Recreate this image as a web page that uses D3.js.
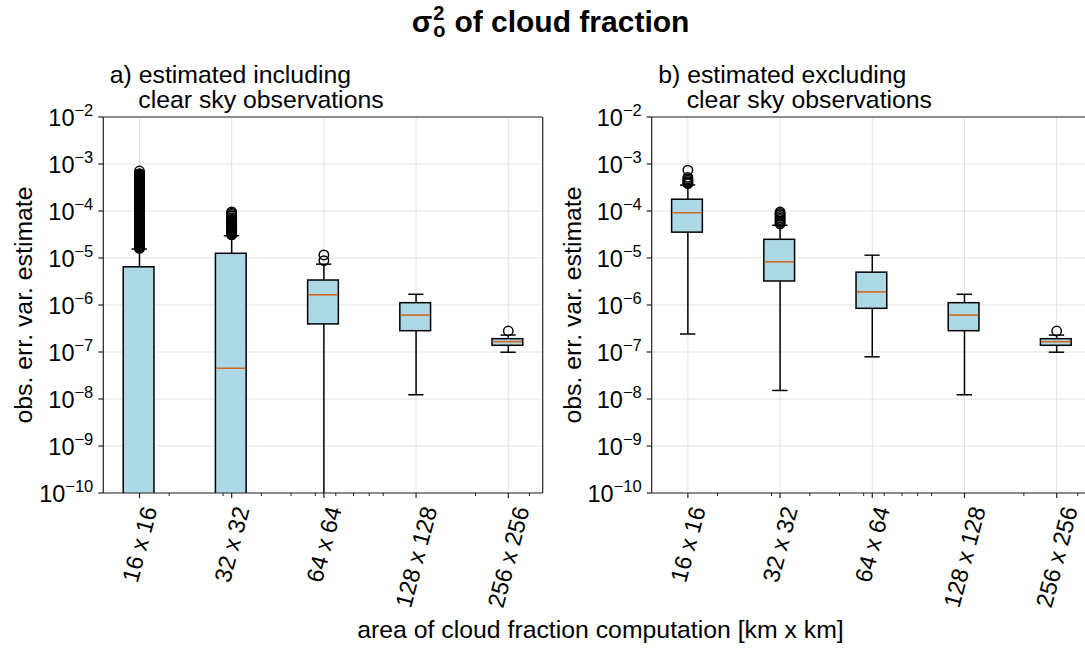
<!DOCTYPE html>
<html>
<head>
<meta charset="utf-8">
<script src="https://cdn.jsdelivr.net/npm/d3@7"></script>
<style>
  body { margin: 0; background: #ffffff; }
  text { font-family: "Liberation Sans", Arial, Helvetica, sans-serif; fill: #000; }
</style>
</head>
<body>
<svg id="fig" width="1085" height="648"></svg>
<script>
// ---- data ----------------------------------------------------------------
const categories = ["16 x 16", "32 x 32", "64 x 64", "128 x 128", "256 x 256"];
const areaSizes = [16, 32, 64, 128, 256];           // km, box positions on the log x axis
const minorAreaTicks = [20, 30, 40, 50, 60, 70, 80, 90, 100, 200, 300];
const yTickExponents = [-2, -3, -4, -5, -6, -7, -8, -9, -10];

// a) including clear sky observations (zeros fall below the axis)
const inclWhiskerLow  = [0, 0, 0, 1.23e-8, 9.9e-8];
const inclQ1          = [0, 0, 3.96e-7, 2.84e-7, 1.39e-7];
const inclMedian      = [0, 4.5e-8, 1.65e-6, 6.1e-7, 1.66e-7];
const inclQ3          = [6.5e-6, 1.26e-5, 3.4e-6, 1.12e-6, 1.92e-7];
const inclWhiskerHigh = [1.55e-5, 2.96e-5, 7.4e-6, 1.69e-6, 2.29e-7];
const inclOutliers = [
  [1.6e-5, 1.65e-5, 1.7e-5, 1.78e-5, 1.85e-5, 1.92e-5, 2.0e-5, 2.08e-5, 2.15e-5, 2.22e-5,
   2.3e-5, 2.4e-5, 2.5e-5, 2.6e-5, 2.7e-5, 2.8e-5, 2.9e-5, 3.0e-5, 3.1e-5, 3.22e-5,
   3.35e-5, 3.47e-5, 3.6e-5, 3.75e-5, 3.9e-5, 4.05e-5, 4.2e-5, 4.35e-5, 4.5e-5, 4.68e-5,
   4.85e-5, 5.02e-5, 5.2e-5, 5.4e-5, 5.6e-5, 5.8e-5, 6.0e-5, 6.25e-5, 6.5e-5, 6.75e-5,
   7.0e-5, 7.25e-5, 7.5e-5, 7.8e-5, 8.1e-5, 8.4e-5, 8.7e-5, 9.05e-5, 9.4e-5, 9.75e-5,
   1.01e-4, 1.05e-4, 1.09e-4, 1.13e-4, 1.17e-4, 1.21e-4, 1.26e-4, 1.3e-4, 1.35e-4, 1.4e-4,
   1.45e-4, 1.5e-4, 1.56e-4, 1.62e-4, 1.68e-4, 1.74e-4, 1.81e-4, 1.88e-4, 1.95e-4, 2.02e-4,
   2.1e-4, 2.17e-4, 2.25e-4, 2.33e-4, 2.42e-4, 2.51e-4, 2.6e-4, 2.7e-4, 2.8e-4, 2.9e-4,
   3.0e-4, 3.12e-4, 3.25e-4, 3.37e-4, 3.5e-4, 3.62e-4, 3.75e-4, 3.9e-4, 4.05e-4, 4.2e-4,
   4.35e-4, 4.52e-4, 4.7e-4, 4.87e-4, 5.05e-4, 5.25e-4, 5.45e-4, 5.65e-4, 5.85e-4, 6.05e-4,
   6.25e-4, 7.1e-4],
  [3.1e-5, 3.2e-5, 3.3e-5, 3.42e-5, 3.55e-5, 3.68e-5, 3.8e-5, 3.95e-5, 4.1e-5, 4.25e-5,
   4.4e-5, 4.55e-5, 4.7e-5, 4.85e-5, 5.0e-5, 5.2e-5, 5.4e-5, 5.6e-5, 5.8e-5, 6.0e-5,
   6.2e-5, 6.45e-5, 6.7e-5, 7.2e-5, 7.8e-5, 8.4e-5, 9.0e-5, 9.6e-5],
  [8.8e-6, 1.16e-5],
  [],
  [2.8e-7]
];

// b) excluding clear sky observations
const exclWhiskerLow  = [2.42e-7, 1.52e-8, 7.9e-8, 1.23e-8, 9.9e-8];
const exclQ1          = [3.55e-5, 3.24e-6, 8.5e-7, 2.84e-7, 1.39e-7];
const exclMedian      = [9.2e-5, 8.3e-6, 1.9e-6, 6.1e-7, 1.66e-7];
const exclQ3          = [1.78e-4, 2.5e-5, 5.0e-6, 1.12e-6, 1.92e-7];
const exclWhiskerHigh = [3.57e-4, 5.0e-5, 1.15e-5, 1.69e-6, 2.29e-7];
const exclOutliers = [
  [3.8e-4, 4.0e-4, 4.2e-4, 4.5e-4, 4.8e-4, 5.2e-4, 7.4e-4],
  [5.3e-5, 5.7e-5, 6.1e-5, 6.6e-5, 7.1e-5, 7.7e-5, 8.3e-5, 8.9e-5, 9.5e-5],
  [],
  [],
  [2.8e-7]
];

// ---- layout ----------------------------------------------------------------
const svg = d3.select("#fig");
const panelWidth = 439.4;
const plotTop = 117, plotBottom = 493;
const tickFont = 23.5, supFont = 16.5, labelFont = 24.8;
const boxRelWidth = 0.23;            // box width as a fraction of its position
const xDomain = [12.19, 331.6];

function drawPanel(left, idx, stats, titleLines) {
  const x = d3.scaleLog().domain(xDomain).range([left, left + panelWidth]);
  const y = d3.scaleLog().domain([1e-10, 1e-2]).range([plotBottom, plotTop]);
  const yv = v => (v > 0 ? y(v) : plotBottom + 40);

  const clipId = "clip" + idx;
  svg.append("clipPath").attr("id", clipId)
    .append("rect").attr("x", left).attr("y", plotTop)
    .attr("width", panelWidth).attr("height", plotBottom - plotTop);

  const g = svg.append("g");

  // grid
  const grid = g.append("g").attr("clip-path", `url(#${clipId})`);
  grid.selectAll("line.gy").data(yTickExponents).join("line")
    .attr("x1", left).attr("x2", left + panelWidth)
    .attr("y1", e => y(Math.pow(10, e))).attr("y2", e => y(Math.pow(10, e)))
    .attr("stroke", "#e3e3e3").attr("stroke-width", 1);
  grid.selectAll("line.gx").data(areaSizes).join("line")
    .attr("x1", d => x(d)).attr("x2", d => x(d))
    .attr("y1", plotTop).attr("y2", plotBottom)
    .attr("stroke", "#e3e3e3").attr("stroke-width", 1);

  // boxes
  const plot = g.append("g").attr("clip-path", `url(#${clipId})`);
  areaSizes.forEach((p, i) => {
    const bx0 = x(p * (1 - boxRelWidth / 2)), bx1 = x(p * (1 + boxRelWidth / 2));
    const cx0 = x(p * (1 - boxRelWidth / 4)), cx1 = x(p * (1 + boxRelWidth / 4));
    const xc = x(p);
    const line = (x1, y1, x2, y2, col, w) => plot.append("line")
      .attr("x1", x1).attr("y1", y1).attr("x2", x2).attr("y2", y2)
      .attr("stroke", col).attr("stroke-width", w);
    // whiskers
    line(xc, yv(stats.q3[i]), xc, yv(stats.hi[i]), "#000", 1.5);
    line(xc, yv(stats.q1[i]), xc, yv(stats.lo[i]), "#000", 1.5);
    line(cx0, yv(stats.hi[i]), cx1, yv(stats.hi[i]), "#000", 1.5);
    line(cx0, yv(stats.lo[i]), cx1, yv(stats.lo[i]), "#000", 1.5);
    // box
    plot.append("rect")
      .attr("x", bx0).attr("y", yv(stats.q3[i]))
      .attr("width", bx1 - bx0).attr("height", yv(stats.q1[i]) - yv(stats.q3[i]))
      .attr("fill", "#add8e6").attr("stroke", "#000").attr("stroke-width", 1.5);
    // median
    line(bx0 + 0.75, yv(stats.med[i]), bx1 - 0.75, yv(stats.med[i]), "#d2691e", 1.6);
    // outliers
    plot.selectAll(null).data(stats.out[i]).join("circle")
      .attr("cx", xc).attr("cy", d => y(d)).attr("r", 4.7)
      .attr("fill", "none").attr("stroke", "#000").attr("stroke-width", 1.5);
  });

  // spines
  const spine = (x1, y1, x2, y2) => g.append("line")
    .attr("x1", x1).attr("y1", y1).attr("x2", x2).attr("y2", y2)
    .attr("stroke", "#222").attr("stroke-width", 1.2);
  spine(left, plotTop, left, plotBottom);
  spine(left, plotBottom, left + panelWidth, plotBottom);
  spine(left, plotTop, left + panelWidth, plotTop);
  spine(left + panelWidth, plotTop, left + panelWidth, plotBottom);

  // x ticks
  g.selectAll(null).data(areaSizes).join("line")
    .attr("x1", d => x(d)).attr("x2", d => x(d))
    .attr("y1", plotBottom).attr("y2", plotBottom + 5)
    .attr("stroke", "#222").attr("stroke-width", 1.2);
  g.selectAll(null).data(minorAreaTicks.filter(d => d >= xDomain[0] && d <= xDomain[1])).join("line")
    .attr("x1", d => x(d)).attr("x2", d => x(d))
    .attr("y1", plotBottom).attr("y2", plotBottom + 3)
    .attr("stroke", "#222").attr("stroke-width", 1);

  // x tick labels, rotated, top of rotated box just below the axis
  const ang = 75 * Math.PI / 180;
  categories.forEach((c, i) => {
    const t = g.append("text").attr("font-size", tickFont).attr("text-anchor", "middle").text(c);
    const w = t.node().getComputedTextLength();
    const h = tickFont * 1.0;
    const cy = plotBottom + 11 + (w * Math.sin(ang) + h * Math.cos(ang)) / 2;
    t.attr("transform", `translate(${x(areaSizes[i])},${cy}) rotate(-75)`)
      .attr("dy", "0.35em");
  });

  // y ticks and labels
  yTickExponents.forEach(e => {
    const yy = y(Math.pow(10, e));
    g.append("line").attr("x1", left - 5).attr("x2", left).attr("y1", yy).attr("y2", yy)
      .attr("stroke", "#222").attr("stroke-width", 1.2);
    const t = g.append("text").attr("text-anchor", "end")
      .attr("x", left - 10).attr("y", yy + 8.5);
    t.append("tspan").attr("font-size", tickFont).text("10");
    t.append("tspan").attr("font-size", supFont).attr("dy", -10).text("\u2212" + Math.abs(e));
  });

  // y axis label
  g.append("text").attr("font-size", labelFont).attr("text-anchor", "middle")
    .attr("transform", `translate(${left - 71},${(plotTop + plotBottom) / 2}) rotate(-90)`)
    .text("obs. err. var. estimate");

  // panel title
  g.append("text").attr("font-size", labelFont).attr("x", left + 6.5).attr("y", 83).text(titleLines[0]);
  g.append("text").attr("font-size", labelFont).attr("x", left + 35).attr("y", 108).text(titleLines[1]);
}

drawPanel(103.3, 0, {
  lo: inclWhiskerLow, q1: inclQ1, med: inclMedian, q3: inclQ3, hi: inclWhiskerHigh, out: inclOutliers
}, ["a) estimated including", "clear sky observations"]);

drawPanel(651.7, 1, {
  lo: exclWhiskerLow, q1: exclQ1, med: exclMedian, q3: exclQ3, hi: exclWhiskerHigh, out: exclOutliers
}, ["b) estimated excluding", "clear sky observations"]);

// shared x label
svg.append("text").attr("font-size", labelFont).attr("text-anchor", "middle")
  .attr("x", 600.5).attr("y", 638).text("area of cloud fraction computation [km x km]");

// figure title: sigma with a stacked superscript 2 and subscript o, one text element
const titleSize = 30, scriptSize = 20, titleBase = 32;
const title = svg.append("text").attr("font-weight", "bold").attr("font-size", titleSize)
  .attr("text-anchor", "middle").attr("x", 550.5).attr("y", titleBase);
title.append("tspan").text("\u03c3");
const supSpan = title.append("tspan").attr("font-size", scriptSize).attr("dx", 1).attr("dy", -12).text("2");
const supW = supSpan.node().getComputedTextLength();
title.append("tspan").attr("font-size", scriptSize).attr("dx", -supW).attr("dy", 17).text("o");
title.append("tspan").attr("dx", 9).attr("dy", -5).text("of cloud fraction");
</script>
</body>
</html>
